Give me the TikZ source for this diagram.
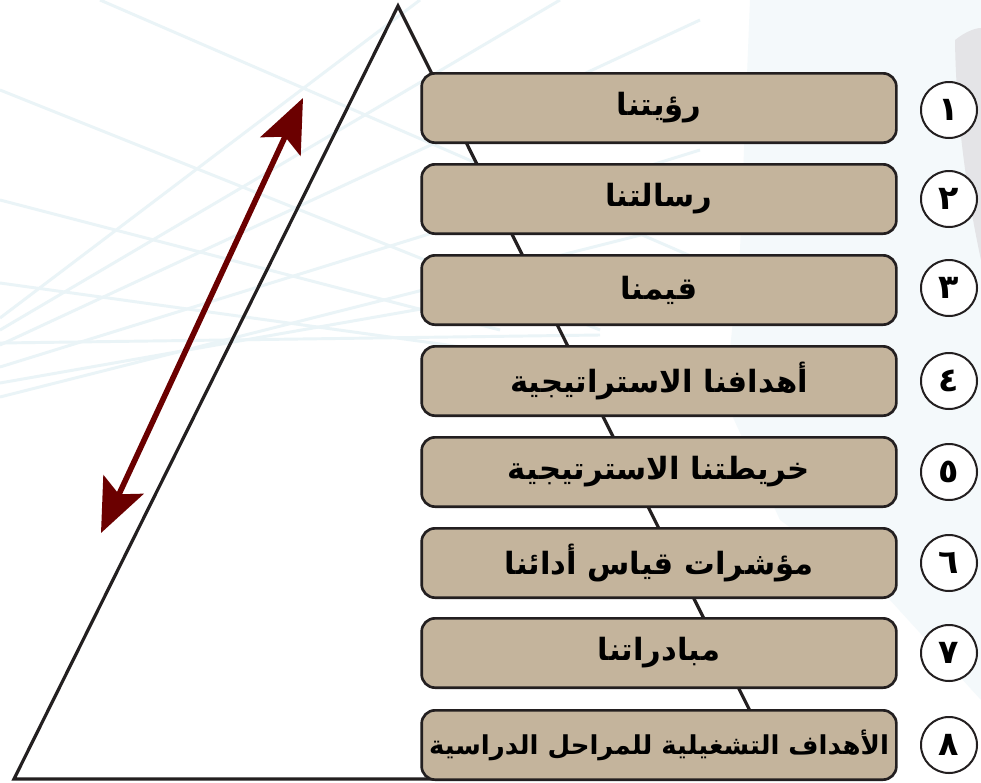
\documentclass[tikz,border=0pt]{standalone}
\usepackage{fontspec}
\newfontfamily\arabicfont[Script=Arabic]{DejaVu Sans}
\TeXXeTstate=1
\usetikzlibrary{arrows.meta}
\definecolor{boxtan}{RGB}{196,180,156}
\definecolor{inkline}{RGB}{35,31,32}
\definecolor{arrowred}{RGB}{107,0,0}
\definecolor{meshblue}{RGB}{234,244,247}
\definecolor{paleblue}{RGB}{244,249,251}
\definecolor{palegray}{RGB}{228,228,231}
\tikzset{
    tier/.style={
        rectangle, draw=inkline, line width=2pt, rounded corners=10pt,
        minimum width=356pt, minimum height=52pt,
        fill=boxtan, text=black,
        font=\arabicfont\bfseries\fontsize{23}{26}\selectfont
    },
    badge/.style={
        circle, draw=inkline, line width=1.5pt, minimum size=42pt,
        fill=white, inner sep=0pt,
        font=\arabicfont\bfseries\fontsize{25}{28}\selectfont
    },
    outline/.style={draw=inkline, line width=2.4pt, line join=miter},
    span/.style={draw=arrowred, line width=4.2pt,
        {Stealth[length=40pt, width=33pt, inset=8pt]}-{Stealth[length=40pt, width=33pt, inset=8pt]}},
    mesh/.style={draw=meshblue, line width=2.2pt}
}
\begin{document}
\begin{tikzpicture}[x=0.75pt, y=-0.75pt]
\useasboundingbox (0,0) rectangle (981,782);

% Background globe
\fill[white] (0,0) rectangle (981,782);
\fill[paleblue] (750,0) -- (981,0) -- (981,700) -- (890,600) -- (780,520) -- (725,400) -- (740,250) -- cycle;
\fill[palegray] (955,40) .. controls (965,32) and (975,28) .. (981,28) -- (981,260) .. controls (968,200) and (956,120) .. (955,40);
\draw[mesh] (0,318) -- (420,0);
\draw[mesh] (0,330) -- (560,0);
\draw[mesh] (0,345) -- (700,20);
\draw[mesh] (0,367) -- (700,150);
\draw[mesh] (0,383) -- (700,260);
\draw[mesh] (0,397) -- (700,220);
\draw[mesh] (100,0) -- (700,260);
\draw[mesh] (0,90) -- (600,330);
\draw[mesh] (0,200) -- (500,330);
\draw[mesh] (0,283) -- (700,380);
\draw[mesh] (0,343) -- (600,335);

% Pyramid
\coordinate (apex) at (398,6);
\coordinate (baseleft) at (14,779);
\coordinate (baseright) at (784,779);
\draw[outline] (apex) -- (baseleft) -- (baseright) -- cycle;

% Double arrow along the left side
\coordinate (lowtip) at (101,533);
\coordinate (hightip) at (303,98);
\draw[span] (lowtip) -- (hightip);

% Levels
\node[tier] (b1) at (659,108) {\beginR رؤيتنا\endR};
\node[tier] (b2) at (659,199) {\beginR رسالتنا\endR};
\node[tier] (b3) at (659,290) {\beginR قيمنا\endR};
\node[tier] (b4) at (659,381) {\beginR أهدافنا الاستراتيجية\endR};
\node[tier] (b5) at (659,472) {\beginR خريطتنا الاسترتيجية\endR};
\node[tier] (b6) at (659,563) {\beginR مؤشرات قياس أدائنا\endR};
\node[tier] (b7) at (659,653) {\beginR مبادراتنا\endR};
\node[tier, font=\arabicfont\bfseries\fontsize{19.5}{22}\selectfont] (b8) at (659,745) {\beginR الأهداف التشغيلية للمراحل الدراسية\endR};

% Numbers
\node[badge] (n1) at (949,110) {١};
\node[badge] (n2) at (949,199) {٢};
\node[badge] (n3) at (949,288) {٣};
\node[badge] (n4) at (949,381) {٤};
\node[badge] (n5) at (949,472) {٥};
\node[badge] (n6) at (949,563) {٦};
\node[badge] (n7) at (949,653) {٧};
\node[badge] (n8) at (949,745) {٨};

\end{tikzpicture}
\end{document}
